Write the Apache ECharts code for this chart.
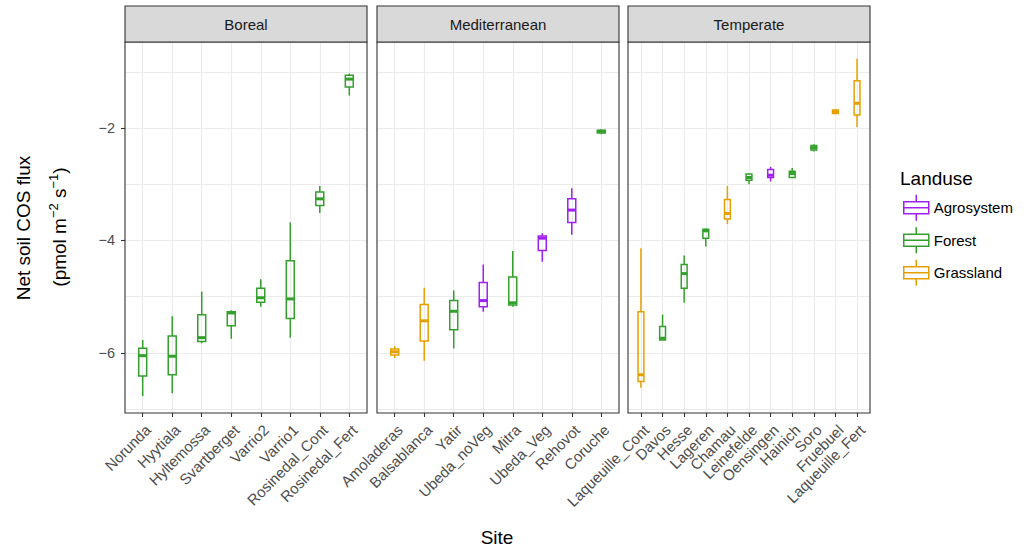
<!DOCTYPE html>
<html>
<head>
<meta charset="utf-8">
<script src="https://cdn.jsdelivr.net/npm/echarts@6/dist/echarts.min.js"></script>
<style>
  html, body { margin: 0; padding: 0; background: #fff; }
  #chart { width: 1024px; height: 551px; }
</style>
</head>
<body>
<div id="chart"></div>
<script>
// ---------- data ----------
const panelNames = ['Boreal', 'Mediterranean', 'Temperate'];

const borealSites = ['Norunda', 'Hyytiala', 'Hyltemossa', 'Svartberget', 'Varrio2', 'Varrio1', 'Rosinedal_Cont', 'Rosinedal_Fert'];
const borealLanduse = ['Forest', 'Forest', 'Forest', 'Forest', 'Forest', 'Forest', 'Forest', 'Forest'];
// [lower whisker, Q1, median, Q3, upper whisker]
const borealStats = [
  [-6.77, -6.41, -6.05, -5.92, -5.77],
  [-6.72, -6.39, -6.06, -5.70, -5.35],
  [-5.83, -5.80, -5.73, -5.32, -4.91],
  [-5.75, -5.52, -5.29, -5.27, -5.24],
  [-5.18, -5.10, -5.02, -4.85, -4.69],
  [-5.73, -5.39, -5.04, -4.36, -3.68],
  [-3.51, -3.38, -3.26, -3.14, -3.03],
  [-1.42, -1.27, -1.13, -1.06, -1.03]
];

const medSites = ['Amoladeras', 'Balsablanca', 'Yatir', 'Ubeda_noVeg', 'Mitra', 'Ubeda_Veg', 'Rehovot', 'Coruche'];
const medLanduse = ['Grassland', 'Grassland', 'Forest', 'Agrosystem', 'Forest', 'Agrosystem', 'Agrosystem', 'Forest'];
const medStats = [
  [-6.09, -6.04, -5.98, -5.93, -5.88],
  [-6.14, -5.79, -5.43, -5.14, -4.84],
  [-5.92, -5.59, -5.26, -5.07, -4.89],
  [-5.27, -5.18, -5.07, -4.75, -4.43],
  [-5.18, -5.15, -5.11, -4.65, -4.19],
  [-4.38, -4.18, -3.96, -3.92, -3.87],
  [-3.90, -3.68, -3.46, -3.26, -3.07],
  [-2.11, -2.09, -2.06, -2.04, -2.02]
];

const tempSites = ['Laqueuille_Cont', 'Davos', 'Hesse', 'Lageren', 'Chamau', 'Leinefelde', 'Oensingen', 'Hainich', 'Soro', 'Fruebuel', 'Laqueuille_Fert'];
const tempLanduse = ['Grassland', 'Forest', 'Forest', 'Forest', 'Grassland', 'Forest', 'Agrosystem', 'Forest', 'Forest', 'Grassland', 'Grassland'];
const tempStats = [
  [-6.62, -6.51, -6.39, -5.27, -4.14],
  [-5.77, -5.77, -5.74, -5.53, -5.32],
  [-5.11, -4.85, -4.59, -4.43, -4.27],
  [-4.11, -3.96, -3.83, -3.80, -3.79],
  [-3.71, -3.62, -3.52, -3.27, -3.03],
  [-3.00, -2.93, -2.88, -2.82, -2.81],
  [-2.95, -2.88, -2.84, -2.74, -2.69],
  [-2.88, -2.88, -2.81, -2.77, -2.71],
  [-2.42, -2.39, -2.35, -2.31, -2.29],
  [-1.75, -1.74, -1.71, -1.68, -1.67],
  [-1.98, -1.77, -1.56, -1.16, -0.77]
];

const landuseNames = ['Agrosystem', 'Forest', 'Grassland'];
const yTickValues = [-6, -4, -2];

// ---------- styling ----------
const landuseColors = { Agrosystem: '#a020f0', Forest: '#33a02c', Grassland: '#e69f00' };
const FONT = '"Liberation Sans", Arial, Helvetica, sans-serif';
const BOX_W = 0.27;
const panels = [
  { sites: borealSites, landuse: borealLanduse, stats: borealStats, left: 125 },
  { sites: medSites, landuse: medLanduse, stats: medStats, left: 377 },
  { sites: tempSites, landuse: tempLanduse, stats: tempStats, left: 628 }
];
const PANEL_W = 242, PANEL_TOP = 42, PANEL_H = 371;
const Y_MIN = -7.07, Y_MAX = -0.47;
const GRID_LINE = { color: '#ebebeb', width: 1.2 };

function renderBox(params, api) {
  const x = api.value(0);
  const pLo = api.coord([x, api.value(1)]);
  const pQ1 = api.coord([x, api.value(2)]);
  const pMed = api.coord([x, api.value(3)]);
  const pQ3 = api.coord([x, api.value(4)]);
  const pHi = api.coord([x, api.value(5)]);
  const hw = api.size([BOX_W, 0])[0] / 2;
  const color = api.visual('color');
  const lw = 1.5;
  return {
    type: 'group',
    children: [
      { type: 'line', shape: { x1: pHi[0], y1: pHi[1], x2: pQ3[0], y2: pQ3[1] }, style: { stroke: color, lineWidth: lw } },
      { type: 'line', shape: { x1: pQ1[0], y1: pQ1[1], x2: pLo[0], y2: pLo[1] }, style: { stroke: color, lineWidth: lw } },
      { type: 'rect', shape: { x: pQ3[0] - hw, y: pQ3[1], width: 2 * hw, height: Math.max(pQ1[1] - pQ3[1], 0.5) }, style: { fill: 'none', stroke: color, lineWidth: lw } },
      { type: 'line', shape: { x1: pMed[0] - hw, y1: pMed[1], x2: pMed[0] + hw, y2: pMed[1] }, style: { stroke: color, lineWidth: 3 } }
    ]
  };
}

const hidden = { axisLine: { show: false }, axisTick: { show: false }, axisLabel: { show: false }, splitLine: { show: false } };
const grids = [], xAxes = [], yAxes = [], series = [], graphics = [];
panels.forEach((p, i) => {
  const n = p.sites.length;
  const cats = p.sites.map((_, k) => k + 1);
  const gA = grids.length;
  // grid A: data grid, exactly the panel
  grids.push({ left: p.left, top: PANEL_TOP, width: PANEL_W, height: PANEL_H });
  xAxes.push({
    type: 'value', gridIndex: gA, min: 0.4, max: n + 0.6,
    axisLine: { show: false },
    axisTick: { show: true, length: 4, lineStyle: { color: '#333', width: 1.1 }, customValues: cats },
    axisLabel: {
      show: true, customValues: cats, rotate: 45, margin: 9, align: 'right', verticalAlign: 'top',
      fontFamily: FONT, fontSize: 15, color: '#4d4d4d',
      formatter: v => p.sites[Math.round(v) - 1] || ''
    },
    splitLine: { show: false }
  });
  yAxes.push({
    type: 'value', gridIndex: gA, min: Y_MIN, max: Y_MAX,
    axisLine: { show: false },
    axisTick: { show: i === 0, length: 4, lineStyle: { color: '#333', width: 1.1 }, customValues: yTickValues },
    axisLabel: {
      show: i === 0, customValues: yTickValues, margin: 10,
      fontFamily: FONT, fontSize: 14.5, color: '#4d4d4d',
      formatter: v => (v < 0 ? '\u2212' : '') + Math.abs(v)
    },
    splitLine: { show: false }
  });
  // grid B: horizontal grid lines (y from -8 to 0, same scale as panel)
  const pxPerY = PANEL_H / (Y_MAX - Y_MIN);
  const gB = grids.length;
  grids.push({ left: p.left, top: PANEL_TOP - (0 - Y_MAX) * pxPerY, width: PANEL_W, height: 8 * pxPerY });
  xAxes.push(Object.assign({ type: 'value', gridIndex: gB, min: 0, max: 1 }, hidden));
  yAxes.push(Object.assign({}, hidden, {
    type: 'value', gridIndex: gB, min: -8, max: 0, interval: 1,
    splitLine: { show: true, showMinLine: false, showMaxLine: false, lineStyle: GRID_LINE }
  }));
  // grid C: vertical grid lines (x from 0 to n+1, same scale as panel)
  const pxPerX = PANEL_W / (n + 0.2);
  const gC = grids.length;
  grids.push({ left: p.left - 0.4 * pxPerX, top: PANEL_TOP, width: (n + 1) * pxPerX, height: PANEL_H });
  xAxes.push(Object.assign({}, hidden, {
    type: 'value', gridIndex: gC, min: 0, max: n + 1, interval: 1,
    splitLine: { show: true, showMinLine: false, showMaxLine: false, lineStyle: GRID_LINE }
  }));
  yAxes.push(Object.assign({ type: 'value', gridIndex: gC, min: 0, max: 1 }, hidden));

  landuseNames.forEach(lu => {
    const data = [];
    p.sites.forEach((s, k) => {
      if (p.landuse[k] === lu) data.push([k + 1].concat(p.stats[k]));
    });
    if (!data.length) return;
    series.push({
      type: 'custom', name: lu, xAxisIndex: gA, yAxisIndex: gA,
      itemStyle: { color: landuseColors[lu] },
      encode: { x: 0, y: [1, 2, 3, 4, 5] },
      renderItem: renderBox, data: data, z: 5
    });
  });
  // panel border
  graphics.push({ type: 'rect', z: 100, shape: { x: p.left, y: PANEL_TOP, width: PANEL_W, height: PANEL_H }, style: { fill: 'none', stroke: '#333', lineWidth: 1.1 } });
  // strip
  graphics.push({ type: 'rect', z: 100, shape: { x: p.left, y: 6, width: PANEL_W, height: 36 }, style: { fill: '#d9d9d9', stroke: '#333', lineWidth: 1.1 } });
  graphics.push({ type: 'text', z: 101, x: p.left + PANEL_W / 2, y: 24, style: { text: panelNames[i], fontFamily: FONT, fontSize: 15, fill: '#1a1a1a', align: 'center', verticalAlign: 'middle' } });
});

// axis titles
graphics.push({ type: 'text', z: 101, x: 497, y: 537, style: { text: 'Site', fontFamily: FONT, fontSize: 19, fill: '#000', align: 'center', verticalAlign: 'middle' } });
graphics.push({ type: 'text', z: 101, x: 23, y: 228, rotation: Math.PI / 2, style: { text: 'Net soil COS flux', fontFamily: FONT, fontSize: 19, fill: '#000', align: 'center', verticalAlign: 'middle' } });
graphics.push({
  type: 'text', z: 101, x: 58, y: 227, rotation: Math.PI / 2,
  style: {
    text: '{n|(pmol m}{s|\u22122}{n| s}{s|\u22121}{n|)}',
    fontFamily: FONT, fill: '#000', align: 'center', verticalAlign: 'middle',
    rich: {
      n: { fontFamily: FONT, fontSize: 19, fill: '#000', verticalAlign: 'bottom' },
      s: { fontFamily: FONT, fontSize: 13, fill: '#000', verticalAlign: 'bottom', padding: [0, 0, 9, 0] }
    }
  }
});
// legend title
graphics.push({ type: 'text', z: 101, x: 900, y: 178, style: { text: 'Landuse', fontFamily: FONT, fontSize: 19, fill: '#000', align: 'left', verticalAlign: 'middle' } });

const iconPath = 'path://M12.5,0V7M0,7H25V19H0ZM0,13H25M12.5,19V26';

const option = {
  animation: false,
  backgroundColor: '#fff',
  grid: grids,
  xAxis: xAxes,
  yAxis: yAxes,
  legend: {
    orient: 'vertical', left: 903, top: 194, padding: 0,
    itemWidth: 25, itemHeight: 26, itemGap: 5,
    selectedMode: false,
    textStyle: { fontFamily: FONT, fontSize: 15, color: '#000' },
    data: landuseNames.map(lu => ({
      name: lu, icon: iconPath,
      itemStyle: { color: 'rgba(0,0,0,0)', borderColor: landuseColors[lu], borderWidth: 1.5 }
    }))
  },
  series: series,
  graphic: graphics
};

const chart = echarts.init(document.getElementById('chart'), null, { renderer: 'svg' });
chart.setOption(option);
</script>
</body>
</html>
